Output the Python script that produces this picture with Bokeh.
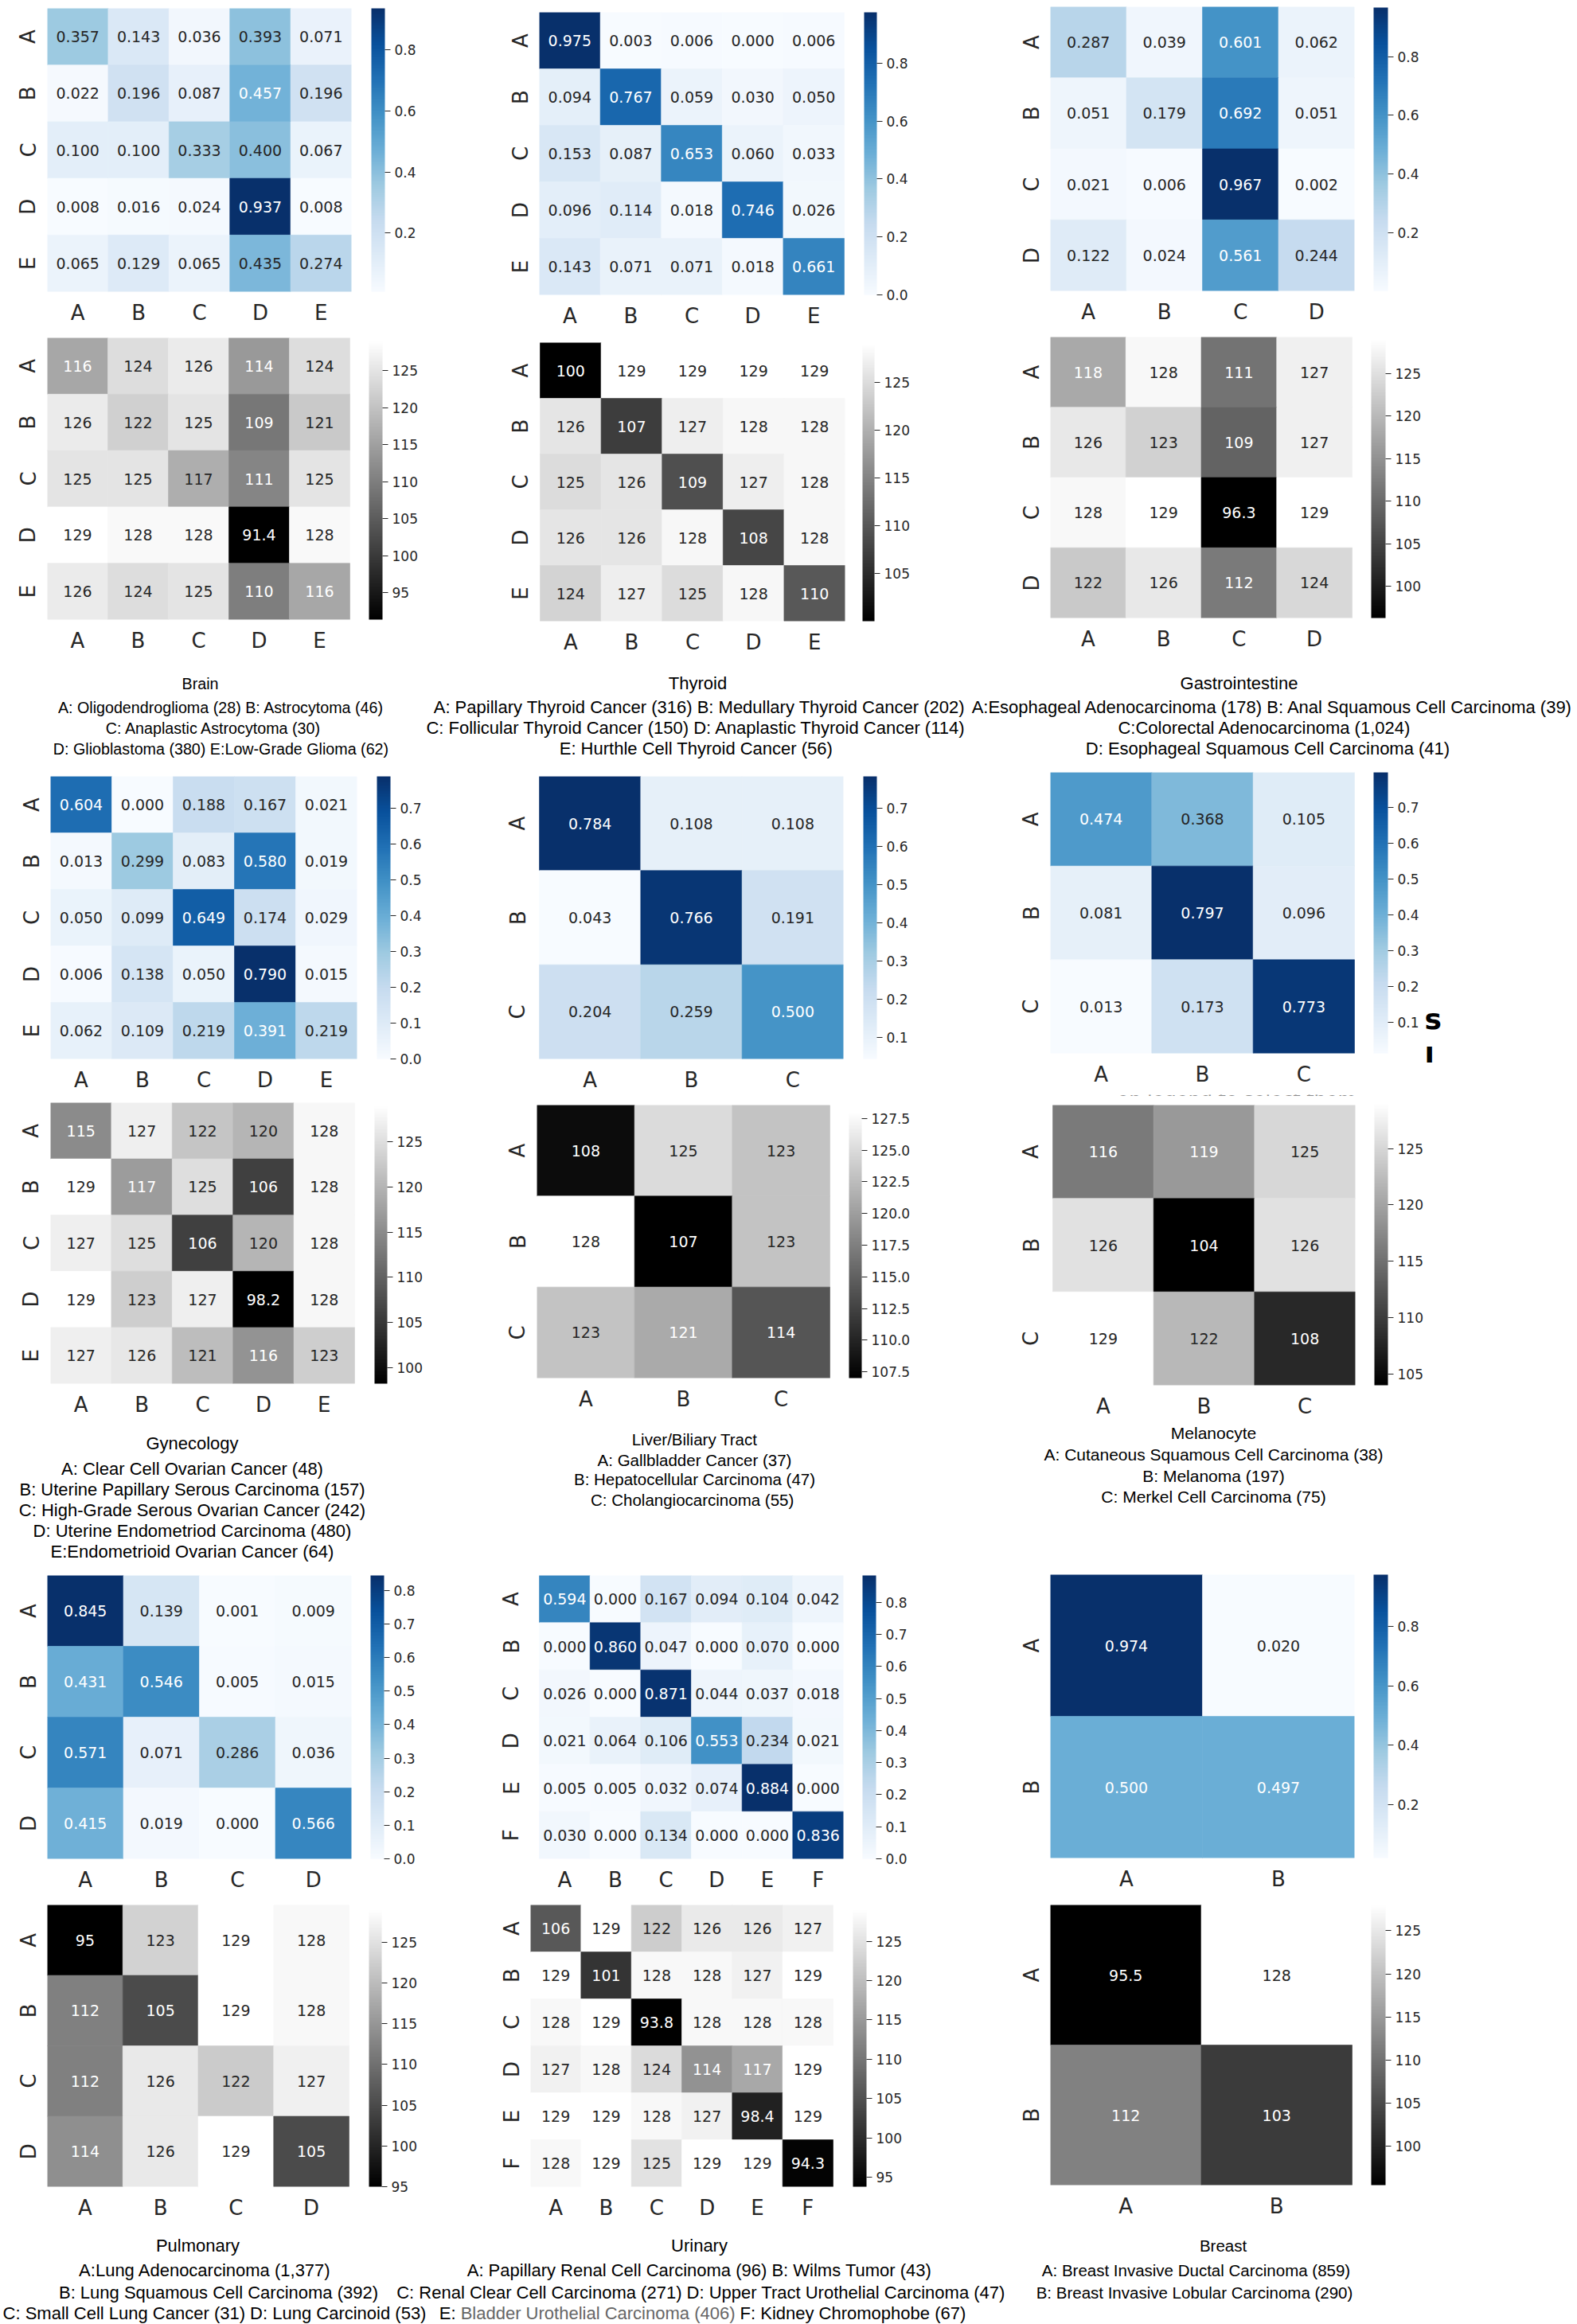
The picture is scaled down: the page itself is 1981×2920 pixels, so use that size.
import numpy as np
from bokeh.plotting import figure
from bokeh.models import (ColumnDataSource, LinearColorMapper, ColorBar, FixedTicker,
                          PrintfTickFormatter, Range1d, LinearAxis)
from bokeh.layouts import row, column
from bokeh.transform import transform
from bokeh.core.properties import value
from bokeh.embed import file_html
from bokeh.resources import INLINE

# ------------------------------------------------------------------ data
brain_labels = ["A", "B", "C", "D", "E"]
brain_prob = [[0.357, 0.143, 0.036, 0.393, 0.071],
              [0.022, 0.196, 0.087, 0.457, 0.196],
              [0.100, 0.100, 0.333, 0.400, 0.067],
              [0.008, 0.016, 0.024, 0.937, 0.008],
              [0.065, 0.129, 0.065, 0.435, 0.274]]
brain_count = [[116, 124, 126, 114, 124],
               [126, 122, 125, 109, 121],
               [125, 125, 117, 111, 125],
               [129, 128, 128, 91.4, 128],
               [126, 124, 125, 110, 116]]
brain_prob_ticks = [0.2, 0.4, 0.6, 0.8]
brain_count_ticks = [95, 100, 105, 110, 115, 120, 125]

thyroid_labels = ["A", "B", "C", "D", "E"]
thyroid_prob = [[0.975, 0.003, 0.006, 0.000, 0.006],
                [0.094, 0.767, 0.059, 0.030, 0.050],
                [0.153, 0.087, 0.653, 0.060, 0.033],
                [0.096, 0.114, 0.018, 0.746, 0.026],
                [0.143, 0.071, 0.071, 0.018, 0.661]]
thyroid_count = [[100, 129, 129, 129, 129],
                 [126, 107, 127, 128, 128],
                 [125, 126, 109, 127, 128],
                 [126, 126, 128, 108, 128],
                 [124, 127, 125, 128, 110]]
thyroid_prob_ticks = [0.0, 0.2, 0.4, 0.6, 0.8]
thyroid_count_ticks = [105, 110, 115, 120, 125]

gastro_labels = ["A", "B", "C", "D"]
gastro_prob = [[0.287, 0.039, 0.601, 0.062],
               [0.051, 0.179, 0.692, 0.051],
               [0.021, 0.006, 0.967, 0.002],
               [0.122, 0.024, 0.561, 0.244]]
gastro_count = [[118, 128, 111, 127],
                [126, 123, 109, 127],
                [128, 129, 96.3, 129],
                [122, 126, 112, 124]]
gastro_prob_ticks = [0.2, 0.4, 0.6, 0.8]
gastro_count_ticks = [100, 105, 110, 115, 120, 125]

gyn_labels = ["A", "B", "C", "D", "E"]
gyn_prob = [[0.604, 0.000, 0.188, 0.167, 0.021],
            [0.013, 0.299, 0.083, 0.580, 0.019],
            [0.050, 0.099, 0.649, 0.174, 0.029],
            [0.006, 0.138, 0.050, 0.790, 0.015],
            [0.062, 0.109, 0.219, 0.391, 0.219]]
gyn_count = [[115, 127, 122, 120, 128],
             [129, 117, 125, 106, 128],
             [127, 125, 106, 120, 128],
             [129, 123, 127, 98.2, 128],
             [127, 126, 121, 116, 123]]
gyn_prob_ticks = [0.0, 0.1, 0.2, 0.3, 0.4, 0.5, 0.6, 0.7]
gyn_count_ticks = [100, 105, 110, 115, 120, 125]

liver_labels = ["A", "B", "C"]
liver_prob = [[0.784, 0.108, 0.108],
              [0.043, 0.766, 0.191],
              [0.204, 0.259, 0.500]]
liver_count = [[108, 125, 123],
               [128, 107, 123],
               [123, 121, 114]]
liver_prob_ticks = [0.1, 0.2, 0.3, 0.4, 0.5, 0.6, 0.7]
liver_count_ticks = [107.5, 110.0, 112.5, 115.0, 117.5, 120.0, 122.5, 125.0, 127.5]

mel_labels = ["A", "B", "C"]
mel_prob = [[0.474, 0.368, 0.105],
            [0.081, 0.797, 0.096],
            [0.013, 0.173, 0.773]]
mel_count = [[116, 119, 125],
             [126, 104, 126],
             [129, 122, 108]]
mel_prob_ticks = [0.1, 0.2, 0.3, 0.4, 0.5, 0.6, 0.7]
mel_count_ticks = [105, 110, 115, 120, 125]

pulm_labels = ["A", "B", "C", "D"]
pulm_prob = [[0.845, 0.139, 0.001, 0.009],
             [0.431, 0.546, 0.005, 0.015],
             [0.571, 0.071, 0.286, 0.036],
             [0.415, 0.019, 0.000, 0.566]]
pulm_count = [[95, 123, 129, 128],
              [112, 105, 129, 128],
              [112, 126, 122, 127],
              [114, 126, 129, 105]]
pulm_prob_ticks = [0.0, 0.1, 0.2, 0.3, 0.4, 0.5, 0.6, 0.7, 0.8]
pulm_count_ticks = [95, 100, 105, 110, 115, 120, 125]

urin_labels = ["A", "B", "C", "D", "E", "F"]
urin_prob = [[0.594, 0.000, 0.167, 0.094, 0.104, 0.042],
             [0.000, 0.860, 0.047, 0.000, 0.070, 0.000],
             [0.026, 0.000, 0.871, 0.044, 0.037, 0.018],
             [0.021, 0.064, 0.106, 0.553, 0.234, 0.021],
             [0.005, 0.005, 0.032, 0.074, 0.884, 0.000],
             [0.030, 0.000, 0.134, 0.000, 0.000, 0.836]]
urin_count = [[106, 129, 122, 126, 126, 127],
              [129, 101, 128, 128, 127, 129],
              [128, 129, 93.8, 128, 128, 128],
              [127, 128, 124, 114, 117, 129],
              [129, 129, 128, 127, 98.4, 129],
              [128, 129, 125, 129, 129, 94.3]]
urin_prob_ticks = [0.0, 0.1, 0.2, 0.3, 0.4, 0.5, 0.6, 0.7, 0.8]
urin_count_ticks = [95, 100, 105, 110, 115, 120, 125]

breast_labels = ["A", "B"]
breast_prob = [[0.974, 0.020],
               [0.500, 0.497]]
breast_count = [[95.5, 128],
                [112, 103]]
breast_prob_ticks = [0.2, 0.4, 0.6, 0.8]
breast_count_ticks = [100, 105, 110, 115, 120, 125]

cap_brain = ["Brain", "A: Oligodendroglioma (28) B: Astrocytoma (46)",
             "C: Anaplastic Astrocytoma (30)", "D: Glioblastoma (380) E:Low-Grade Glioma (62)"]
cap_thyroid = ["Thyroid", "A: Papillary Thyroid Cancer (316) B: Medullary Thyroid Cancer (202)",
               "C: Follicular Thyroid Cancer (150) D: Anaplastic Thyroid Cancer (114)",
               "E: Hurthle Cell Thyroid Cancer (56)"]
cap_gastro = ["Gastrointestine", "A:Esophageal Adenocarcinoma (178) B: Anal Squamous Cell Carcinoma (39)",
              "C:Colorectal Adenocarcinoma (1,024)", "D: Esophageal Squamous Cell Carcinoma (41)"]
cap_gyn = ["Gynecology", "A: Clear Cell Ovarian Cancer (48)", "B: Uterine Papillary Serous Carcinoma (157)",
           "C: High-Grade Serous Ovarian Cancer (242)", "D: Uterine Endometriod Carcinoma (480)",
           "E:Endometrioid Ovarian Cancer (64)"]
cap_liver = ["Liver/Biliary Tract", "A: Gallbladder Cancer (37)", "B: Hepatocellular Carcinoma (47)",
             "C: Cholangiocarcinoma  (55)"]
cap_mel = ["Melanocyte", "A: Cutaneous Squamous Cell Carcinoma (38)", "B: Melanoma (197)",
           "C: Merkel Cell Carcinoma (75)"]
cap_pulm = ["Pulmonary", "A:Lung Adenocarcinoma (1,377)", "B: Lung Squamous Cell Carcinoma (392)",
            "C: Small Cell Lung Cancer (31) D: Lung Carcinoid (53)"]
cap_urin = ["Urinary", "A: Papillary Renal Cell Carcinoma (96) B: Wilms Tumor (43)",
            "C: Renal Clear Cell Carcinoma (271) D: Upper Tract Urothelial Carcinoma (47)",
            ["E: ", "Bladder Urothelial Carcinoma (406)", " F: Kidney Chromophobe (67)"]]
cap_breast = ["Breast", "A: Breast Invasive Ductal Carcinoma (859)",
              "B: Breast Invasive Lobular Carcinoma (290)"]
# stray fragments visible at the right of / under the Melanocyte top panel
stray_glyphs = ["s", "ı"]
stray_hint = "on legend to select them"

DATA = {
    "brain": (brain_labels, brain_prob, brain_count, brain_prob_ticks, brain_count_ticks, "%d"),
    "thyroid": (thyroid_labels, thyroid_prob, thyroid_count, thyroid_prob_ticks, thyroid_count_ticks, "%d"),
    "gastro": (gastro_labels, gastro_prob, gastro_count, gastro_prob_ticks, gastro_count_ticks, "%d"),
    "gyn": (gyn_labels, gyn_prob, gyn_count, gyn_prob_ticks, gyn_count_ticks, "%d"),
    "liver": (liver_labels, liver_prob, liver_count, liver_prob_ticks, liver_count_ticks, "%.1f"),
    "mel": (mel_labels, mel_prob, mel_count, mel_prob_ticks, mel_count_ticks, "%d"),
    "pulm": (pulm_labels, pulm_prob, pulm_count, pulm_prob_ticks, pulm_count_ticks, "%d"),
    "urin": (urin_labels, urin_prob, urin_count, urin_prob_ticks, urin_count_ticks, "%d"),
    "breast": (breast_labels, breast_prob, breast_count, breast_prob_ticks, breast_count_ticks, "%d"),
}
CAPTIONS = {"brain": cap_brain, "thyroid": cap_thyroid, "gastro": cap_gastro, "gyn": cap_gyn,
            "liver": cap_liver, "mel": cap_mel, "pulm": cap_pulm, "urin": cap_urin, "breast": cap_breast}

# ------------------------------------------------------------------ layout (page pixels)
GRID = [["brain", "thyroid", "gastro"], ["gyn", "liver", "mel"], ["pulm", "urin", "breast"]]
PANEL_X = [(0, 620), (620, 1260), (1260, 1981)]
ROWS = [dict(top=(0, 416), bot=(416, 824), cap=(824, 962)),
        dict(top=(962, 1378), bot=(1378, 1784), cap=(1784, 1965)),
        dict(top=(1965, 2385), bot=(2385, 2800), cap=(2800, 2920))]
GEO = {
    "brain": dict(top=(59, 10, 441, 366), top_cb=(466, 10, 483, 366),
                  bot=(59, 424, 439, 778), bot_cb=(463, 428, 480, 778)),
    "thyroid": dict(top=(677, 15, 1060, 370), top_cb=(1085, 15, 1101, 370),
                    bot=(678, 430, 1061, 780), bot_cb=(1083, 432, 1098, 780)),
    "gastro": dict(top=(1319, 8, 1701, 365), top_cb=(1725, 9, 1743, 365),
                   bot=(1319, 423, 1698, 776), bot_cb=(1722, 426, 1740, 776)),
    "gyn": dict(top=(63, 975, 448, 1330), top_cb=(473, 975, 490, 1330),
                bot=(63, 1385, 445, 1738), bot_cb=(470, 1389, 486, 1738)),
    "liver": dict(top=(677, 975, 1059, 1330), top_cb=(1084, 975, 1101, 1330),
                  bot=(674, 1388, 1042, 1731), bot_cb=(1066, 1397, 1082, 1731)),
    "mel": dict(top=(1319, 970, 1701, 1323), top_cb=(1725, 970, 1743, 1323),
                bot=(1322, 1388, 1702, 1742), bot_cb=(1726, 1388, 1743, 1742)),
    "pulm": dict(top=(59, 1979, 441, 2335), top_cb=(465, 1979, 482, 2335),
                 bot=(59, 2393, 438, 2747), bot_cb=(463, 2399, 479, 2747)),
    "urin": dict(top=(677, 1979, 1059, 2335), top_cb=(1083, 1979, 1100, 2335),
                 bot=(666, 2393, 1046, 2747), bot_cb=(1071, 2399, 1088, 2747)),
    "breast": dict(top=(1319, 1978, 1701, 2334), top_cb=(1725, 1978, 1743, 2334),
                   bot=(1319, 2393, 1698, 2745), bot_cb=(1722, 2393, 1740, 2745)),
}
# melanocyte column: top heatmap, thin hint strip, bottom heatmap
MEL_TOP_Y1 = 1370
MEL_HINT_Y1 = 1377
STRAY_TICKS = [1280, 1322]          # vertical centres of the stray glyphs
STRAY_LEFT = 1789                   # left edge of the stray glyphs
HINT_POS = (1403, 1376)             # left end, baseline

# caption placement: title x, line x (one per line), title y, line ys, font px
CAP = {
    "brain": (251, [277, 268, 277], 858, [888, 914, 940], 19.7),
    "thyroid": (876, [878, 874, 874], 858, [888, 914, 940], 22),
    "gastro": (1556, [1598, 1588, 1592], 858, [888, 914, 940], 22),
    "gyn": (241, [241, 241, 241, 241, 241], 1813, [1845, 1871, 1897, 1923, 1949], 22),
    "liver": (872, [872, 872, 872], 1808, [1834, 1858, 1884], 20.5),
    "mel": (1524, [1524, 1524, 1524], 1800, [1827, 1854, 1880], 21),
    "pulm": (248, [257, 274, 269], 2821, [2852, 2880, 2906], 22),
    "urin": (878, [878, 880, 882], 2821, [2852, 2880, 2906], 22),
    "breast": (1536, [1502, 1500], 2821, [2852, 2880], 20.5),
}

# ------------------------------------------------------------------ palettes
def interp(stops, n=256):
    rgb = np.array([[int(c[k:k + 2], 16) for k in (1, 3, 5)] for c in stops], float)
    xs = np.linspace(0, 1, len(stops))
    t = np.linspace(0, 1, n)
    out = np.stack([np.interp(t, xs, rgb[:, k]) for k in range(3)], axis=1)
    return ["#%02x%02x%02x" % tuple(int(round(v)) for v in c) for c in out]

BLUES = interp(["#f7fbff", "#deebf7", "#c6dbef", "#9ecae1", "#6baed6",
                "#4292c6", "#2171b5", "#08519c", "#08306b"])
GRAYS = interp(["#000000", "#ffffff"])

def rel_lum(h):
    ch = [int(h[k:k + 2], 16) / 255 for k in (1, 3, 5)]
    lin = [c / 12.92 if c <= 0.03928 else ((c + 0.055) / 1.055) ** 2.4 for c in ch]
    return 0.2126 * lin[0] + 0.7152 * lin[1] + 0.0722 * lin[2]

DARK = "#262626"
NUM_FONT = "DejaVu Sans"

def blank_fig(x0, y0, x1, y1, left=0, right=0):
    p = figure(width=x1 - x0, height=y1 - y0,
               x_range=Range1d(x0 + left, x1 - right), y_range=Range1d(y1, y0),
               output_backend="svg", toolbar_location=None, min_border=0,
               min_border_left=left, min_border_right=right,
               x_axis_location=None, y_axis_location=None)
    p.grid.visible = False
    p.outline_line_color = None
    return p

# ------------------------------------------------------------------ heatmap
def heatmap(mat, labels, kind, ticks, tick_fmt, fig_box, frame_x, cell_box, cb_box, stray=False):
    fx0, fy0, fx1, fy1 = fig_box
    FX0, FX1 = frame_x                 # frame extent shared by the panel column
    hx0, hy0, hx1, hy1 = cell_box      # extent of the cells
    cx0, cy0, cx1, cy1 = cb_box
    n = len(labels)
    cw = (hx1 - hx0) / n
    arr = np.array(mat, float)
    vmin, vmax = float(arr.min()), float(arr.max())
    pal = BLUES if kind == "prob" else GRAYS
    mapper = LinearColorMapper(palette=pal, low=vmin, high=vmax)
    xs, ys, vs, txt, tcol = [], [], [], [], []
    for i in range(n):
        for j in range(n):
            v = float(arr[i, j])
            xs.append(j); ys.append(i); vs.append(v)
            txt.append(f"{v:.3f}" if kind == "prob" else f"{v:.3g}")
            idx = int(np.clip((v - vmin) / (vmax - vmin) * 256, 0, 255))
            tcol.append(DARK if rel_lum(pal[idx]) > 0.408 else "#ffffff")
    src = ColumnDataSource(dict(x=xs, y=ys, v=vs, t=txt, c=tcol))
    p = figure(width=fx1 - fx0, height=fy1 - fy0,
               x_range=Range1d(-0.5 - (hx0 - FX0) / cw, n - 0.5 + (FX1 - hx1) / cw),
               y_range=Range1d(n - 0.5, -0.5),
               output_backend="svg", toolbar_location=None,
               min_border_left=FX0 - fx0, min_border_right=fx1 - FX1,
               min_border_top=hy0 - fy0, min_border_bottom=fy1 - hy1)
    p.outline_line_color = None
    p.grid.grid_line_color = None
    p.background_fill_color = "#ffffff"
    p.border_fill_color = "#ffffff"
    p.rect(x="x", y="y", width=1, height=1, source=src,
           fill_color=transform("v", mapper), line_color=transform("v", mapper), line_width=0.6)
    p.text(x="x", y="y", text="t", source=src, text_color="c",
           text_align="center", text_baseline="middle",
           text_font=value(NUM_FONT), text_font_size="19px")
    xax, yax = p.xaxis[0], p.yaxis[0]
    for ax in (xax, yax):
        ax.ticker = FixedTicker(ticks=list(range(n)))
        ax.major_label_overrides = {k: lab for k, lab in enumerate(labels)}
        ax.axis_line_color = None
        ax.major_tick_line_color = None
        ax.minor_tick_line_color = None
        ax.major_tick_in = 0
        ax.major_tick_out = 0
        ax.major_label_text_font = NUM_FONT
        ax.major_label_text_font_size = "26px"
        ax.major_label_text_color = DARK
    xax.major_label_standoff = 11
    yax.major_label_standoff = 9
    yax.major_label_orientation = "vertical"
    cb = ColorBar(color_mapper=mapper, ticker=FixedTicker(ticks=ticks),
                  formatter=PrintfTickFormatter(format=tick_fmt),
                  width=cx1 - cx0, height=cy1 - cy0, padding=0, margin=0,
                  location=(cx0 - FX0, hy1 - cy1),
                  major_tick_in=0, major_tick_out=7, major_tick_line_color=DARK,
                  minor_tick_line_color=None, label_standoff=5,
                  major_label_text_font=NUM_FONT, major_label_text_font_size="17px",
                  major_label_text_color=DARK, bar_line_color=None,
                  border_line_color=None, background_fill_color=None)
    p.add_layout(cb, "center")
    if stray:
        p.extra_y_ranges = {"px": Range1d(hy1, hy0)}
        sax = LinearAxis(y_range_name="px", ticker=FixedTicker(ticks=STRAY_TICKS),
                         major_label_overrides=dict(zip(STRAY_TICKS, stray_glyphs)),
                         axis_line_color=None, major_tick_line_color=None,
                         minor_tick_line_color=None, major_tick_in=0, major_tick_out=0,
                         major_label_standoff=STRAY_LEFT - FX1,
                         major_label_text_font=NUM_FONT, major_label_text_font_size="36px",
                         major_label_text_font_style="bold", major_label_text_color="#000000")
        p.add_layout(sax, "right")
    return p

# ------------------------------------------------------------------ captions
ARIAL = {" ": 278, "!": 278, "(": 333, ")": 333, ",": 278, "-": 333, ".": 278, "/": 278, ":": 278}
ARIAL.update({d: 556 for d in "0123456789"})
ARIAL.update(dict(zip("ABCDEFGHIJKLMNOPQRSTUVWXYZ",
                      [667, 667, 722, 722, 667, 611, 778, 722, 278, 500, 667, 556, 833,
                       722, 778, 667, 778, 722, 667, 611, 722, 667, 944, 667, 667, 611])))
ARIAL.update(dict(zip("abcdefghijklmnopqrstuvwxyz",
                      [556, 556, 500, 556, 556, 278, 556, 556, 222, 222, 500, 222, 833,
                       556, 556, 556, 556, 333, 500, 278, 556, 500, 722, 500, 500, 500])))

def text_width(s, size):
    return sum(ARIAL.get(ch, 556) for ch in s) * size / 1000.0

def caption_fig(y0, y1, keys):
    p = blank_fig(0, y0, 1981, y1)
    for key in keys:
        tx, lxs, ty, lys, size = CAP[key]
        lines = CAPTIONS[key]
        xs, ys, ts, cs, al = [tx], [ty], [lines[0]], ["#000000"], ["center"]
        for ln, lx, ly in zip(lines[1:], lxs, lys):
            if isinstance(ln, list):
                total = sum(text_width(s, size) for s in ln)
                start = lx - total / 2
                for k, s in enumerate(ln):
                    lead = len(s) - len(s.lstrip(" "))
                    xs.append(start + text_width(" " * lead, size)); ys.append(ly)
                    ts.append(s.strip(" "))
                    cs.append("#666666" if k == 1 else "#000000"); al.append("left")
                    start += text_width(s, size)
            else:
                xs.append(lx); ys.append(ly); ts.append(ln); cs.append("#000000"); al.append("center")
        src = ColumnDataSource(dict(x=xs, y=ys, t=ts, c=cs, a=al))
        p.text(x="x", y="y", text="t", text_color="c", text_align="a", source=src,
               text_baseline="middle", text_font=value("Liberation Sans"),
               text_font_size=f"{size}px")
    return p

# ------------------------------------------------------------------ assemble
children = []
for r, spec in enumerate(ROWS):
    cols = []
    for c in range(3):
        key = GRID[r][c]
        labels, prob, count, pticks, cticks, cfmt = DATA[key]
        g = GEO[key]
        x0, x1 = PANEL_X[c]
        fr = (min(g["top"][0], g["bot"][0]), max(g["top"][2], g["bot"][2]))
        if key == "mel":
            ty0 = spec["top"][0]
            pt = heatmap(prob, labels, "prob", pticks, "%.1f",
                         (x0, ty0, x1, MEL_TOP_Y1), fr, g["top"], g["top_cb"], stray=True)
            hint = blank_fig(x0, MEL_TOP_Y1, x1, MEL_HINT_Y1, left=fr[0] - x0, right=x1 - fr[1])
            hint.text(x=[HINT_POS[0]], y=[HINT_POS[1]], text=[stray_hint], text_color="#8c8c8c",
                      text_align="left", text_baseline="alphabetic",
                      text_font=value(NUM_FONT), text_font_size="24px")
            pb = heatmap(count, labels, "count", cticks, cfmt,
                         (x0, MEL_HINT_Y1, x1, spec["bot"][1]), fr, g["bot"], g["bot_cb"])
            cols.append(column(pt, hint, pb))
            continue
        pt = heatmap(prob, labels, "prob", pticks, "%.1f",
                     (x0, spec["top"][0], x1, spec["top"][1]), fr, g["top"], g["top_cb"])
        pb = heatmap(count, labels, "count", cticks, cfmt,
                     (x0, spec["bot"][0], x1, spec["bot"][1]), fr, g["bot"], g["bot_cb"])
        cols.append(column(pt, pb))
    children.append(row(*cols))
    children.append(caption_fig(spec["cap"][0], spec["cap"][1], GRID[r]))

root = column(*children)
open("out.html", "w").write(file_html(root, INLINE))
